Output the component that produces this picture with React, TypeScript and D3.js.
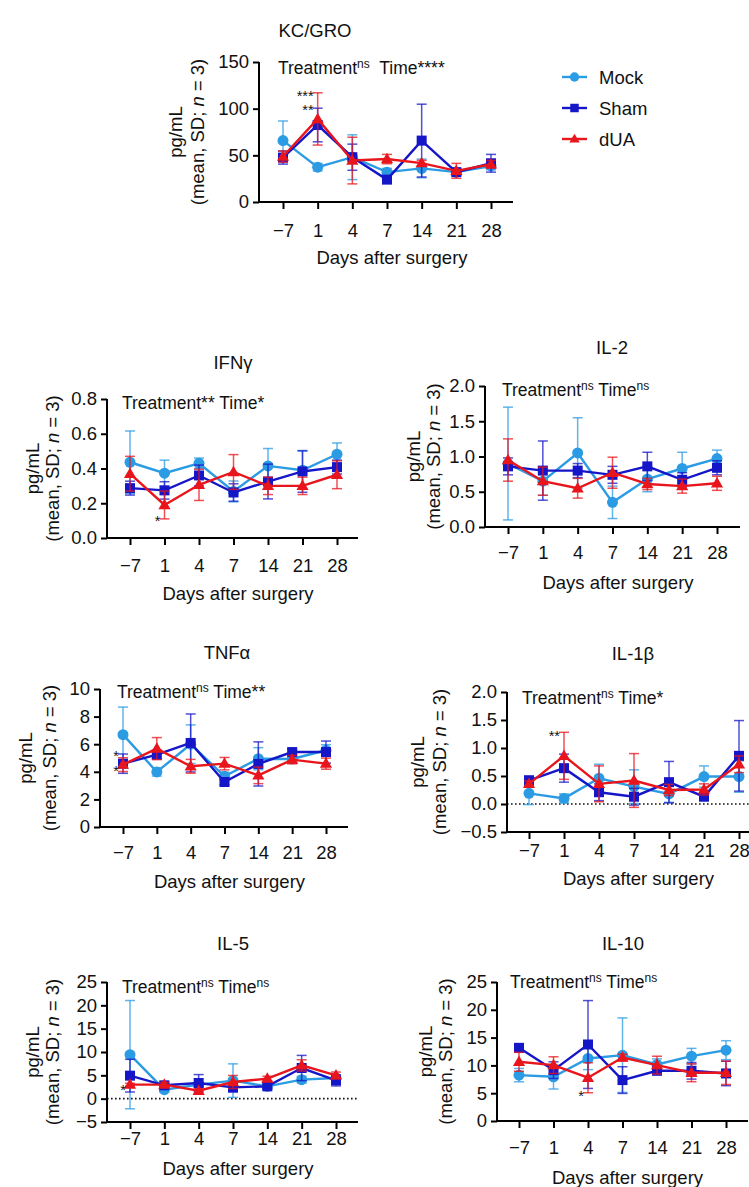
import React, { useRef, useEffect } from "react";
import * as d3 from "d3";

const days = ["−7", "1", "4", "7", "14", "21", "28"];
const seriesNames = ["Mock", "Sham", "dUA"];
const seriesColors = ["#2b9be3", "#1616c9", "#e8161c"];

// mean values per panel (Mock, Sham, dUA), and SD
const kcMean = [
  [65.8, 37.3, 48, 32, 36, 32, 38.6],
  [47.6, 82.5, 48, 24, 65.8, 32, 41.5],
  [48.7, 89, 44.4, 46, 41.6, 33.4, 40.5],
];
const kcSd = [
  [21, 4, 24, 4, 10, 3, 4],
  [7, 18, 14, 4, 39, 3, 9.5],
  [6, 28, 25, 5, 3, 8, 4],
];

const ifnMean = [
  [0.436, 0.373, 0.43, 0.268, 0.415, 0.39, 0.482],
  [0.287, 0.274, 0.36, 0.262, 0.325, 0.383, 0.408],
  [0.37, 0.19, 0.306, 0.38, 0.3, 0.3, 0.364],
];
const ifnSd = [
  [0.18, 0.075, 0.03, 0.06, 0.1, 0.11, 0.065],
  [0.04, 0.05, 0.06, 0.05, 0.1, 0.12, 0.04],
  [0.1, 0.08, 0.09, 0.1, 0.05, 0.05, 0.08],
];

const il2Mean = [
  [0.9, 0.65, 1.05, 0.35, 0.68, 0.83, 0.97],
  [0.86, 0.8, 0.8, 0.74, 0.86, 0.67, 0.84],
  [0.95, 0.65, 0.55, 0.77, 0.61, 0.58, 0.62],
];
const il2Sd = [
  [0.8, 0.2, 0.5, 0.23, 0.18, 0.23, 0.12],
  [0.12, 0.42, 0.1, 0.12, 0.2, 0.1, 0.1],
  [0.3, 0.2, 0.14, 0.22, 0.08, 0.1, 0.1],
];

const tnfMean = [
  [6.69, 3.99, 6.0, 3.67, 4.95, 4.93, 5.56],
  [4.59, 5.24, 6.09, 3.26, 4.57, 5.43, 5.43],
  [4.52, 5.68, 4.4, 4.59, 3.74, 4.88, 4.59],
];
const tnfSd = [
  [2.0, 0.3, 1.4, 0.3, 0.8, 0.3, 0.4],
  [0.7, 0.3, 2.1, 0.2, 1.6, 0.2, 0.8],
  [0.5, 0.8, 0.5, 0.45, 0.6, 0.3, 0.4],
];

const il1bMean = [
  [0.19, 0.1, 0.46, 0.31, 0.18, 0.49, 0.49],
  [0.42, 0.64, 0.21, 0.13, 0.39, 0.13, 0.86],
  [0.36, 0.86, 0.36, 0.42, 0.25, 0.26, 0.71],
];
const il1bSd = [
  [0.2, 0.08, 0.25, 0.3, 0.15, 0.19, 0.28],
  [0.08, 0.25, 0.15, 0.15, 0.37, 0.05, 0.63],
  [0.05, 0.42, 0.32, 0.48, 0.1, 0.1, 0.15],
];

const il5Mean = [
  [9.43, 1.93, 3.0, 3.86, 2.64, 4.07, 4.43],
  [4.93, 2.86, 3.36, 2.43, 2.64, 6.57, 3.93],
  [3.0, 3.0, 1.71, 3.57, 4.29, 7.14, 5.0],
];
const il5Sd = [
  [11.6, 0.5, 0.5, 3.6, 0.4, 0.7, 0.5],
  [3.5, 0.6, 1.8, 1.0, 0.5, 2.7, 1.2],
  [0.3, 0.5, 0.4, 1.4, 0.5, 1.2, 0.7],
];

const il10Mean = [
  [8.25, 7.95, 11.24, 11.84, 10.17, 11.66, 12.74],
  [13.16, 9.15, 13.76, 7.36, 9.03, 9.03, 8.55],
  [10.65, 10.05, 7.78, 11.42, 10.05, 8.67, 8.67],
];
const il10Sd = [
  [1.2, 2.2, 2.0, 6.7, 1.0, 1.4, 1.7],
  [0.5, 1.5, 7.9, 2.4, 0.6, 1.5, 2.2],
  [1.7, 1.5, 2.7, 0.6, 1.6, 1.6, 2.1],
];

const kcTicks = [0, 50, 100, 150];
const ifnTicks = [0, 0.2, 0.4, 0.6, 0.8];
const il2Ticks = [0, 0.5, 1, 1.5, 2];
const tnfTicks = [0, 2, 4, 6, 8, 10];
const il1bTicks = [-0.5, 0, 0.5, 1, 1.5, 2];
const il5Ticks = [-5, 0, 5, 10, 15, 20, 25];
const il10Ticks = [0, 5, 10, 15, 20, 25];

const panels = [
  {
    title: "KC/GRO", mean: kcMean, sd: kcSd, ticks: kcTicks, fmt: d3.format("d"),
    treat: "ns", time: "****", gap: true,
    stars: [{ i: 1, v: 116.8, t: "***" }, { i: 1, v: 101.8, t: "**" }],
    ax: 259, x0: 283, x6: 491, xe: 513, yt: 62, yb: 202, tx: 315, ty: 30,
    tly: 230, xly: 257, yl: [175, 197], anx: 278, any: 68, zero: false,
  },
  {
    title: "IFNγ", mean: ifnMean, sd: ifnSd, ticks: ifnTicks, fmt: d3.format(".1f"),
    treat: "**", time: "*", gap: false,
    stars: [{ i: 1, v: 0.115, t: "*" }],
    ax: 107, x0: 130, x6: 337, xe: 358, yt: 399, yb: 538, tx: 233, ty: 362,
    tly: 565, xly: 593, yl: [32, 52], anx: 122, any: 403, zero: false,
  },
  {
    title: "IL-2", mean: il2Mean, sd: il2Sd, ticks: il2Ticks, fmt: d3.format(".1f"),
    treat: "ns", time: "ns", gap: false, stars: [],
    ax: 485, x0: 508, x6: 717, xe: 740, yt: 386, yb: 527, tx: 612, ty: 347,
    tly: 552, xly: 582, yl: [413, 433], anx: 502, any: 390, zero: false,
  },
  {
    title: "TNFα", mean: tnfMean, sd: tnfSd, ticks: tnfTicks, fmt: d3.format("d"),
    treat: "ns", time: "**", gap: false,
    stars: [{ i: 0, v: 5.38, t: "*" }, { i: 0, v: 4.28, t: "*" }],
    ax: 100, x0: 123, x6: 326, xe: 348, yt: 689, yb: 827, tx: 227, ty: 652,
    tly: 852, xly: 881, yl: [25, 49], anx: 117, any: 692, zero: false,
  },
  {
    title: "IL-1β", mean: il1bMean, sd: il1bSd, ticks: il1bTicks, fmt: d3.format(".1f"),
    treat: "ns", time: "*", gap: false,
    stars: [{ i: 1, v: 1.27, t: "**" }],
    ax: 507, x0: 529, x6: 739, xe: 760, yt: 692, yb: 832, tx: 633, ty: 653,
    tly: 850, xly: 878, yl: [417, 439], anx: 522, any: 698, zero: true,
  },
  {
    title: "IL-5", mean: il5Mean, sd: il5Sd, ticks: il5Ticks, fmt: d3.format("d"),
    treat: "ns", time: "ns", gap: false,
    stars: [{ i: 0, v: 2.57, t: "*" }],
    ax: 107, x0: 130, x6: 336, xe: 358, yt: 982, yb: 1122, tx: 233, ty: 943,
    tly: 1138, xly: 1168, yl: [32, 52], anx: 122, any: 987, zero: true,
  },
  {
    title: "IL-10", mean: il10Mean, sd: il10Sd, ticks: il10Ticks, fmt: d3.format("d"),
    treat: "ns", time: "ns", gap: false,
    stars: [{ i: 2, v: 5.03, t: "*" }],
    ax: 497, x0: 519, x6: 726, xe: 748, yt: 982, yb: 1121, tx: 623, ty: 943,
    tly: 1147, xly: 1177, yl: [425, 445], anx: 510, any: 982, zero: false,
  },
];

const FONT = "Arial, 'Liberation Sans', Helvetica, sans-serif";
const FS = 18.5;

const drawMarker = (sel, k, color, s) => {
  if (k === 0) {
    sel.append("circle").attr("r", s * 0.55).attr("fill", color);
  } else if (k === 1) {
    sel.append("rect").attr("x", -s / 2).attr("y", -s / 2).attr("width", s).attr("height", s).attr("fill", color);
  } else {
    const h = s * 1.05;
    sel.append("path").attr("d", `M0,${-h * 0.6}L${h * 0.58},${h * 0.4}L${-h * 0.58},${h * 0.4}Z`).attr("fill", color);
  }
};

const App = () => {
  const ref = useRef(null);

  useEffect(() => {
    const svg = d3.select(ref.current);
    svg.selectAll("*").remove();
    svg.append("rect").attr("width", 749).attr("height", 1187).attr("fill", "#fff");

    panels.forEach((p) => {
      const g = svg.append("g").attr("font-family", FONT).attr("fill", "#111");
      const x = d3.scalePoint().domain(days).range([p.x0, p.x6]);
      const y = d3.scaleLinear().domain([p.ticks[0], p.ticks[p.ticks.length - 1]]).range([p.yb, p.yt]);

      // title
      g.append("text").attr("x", p.tx).attr("y", p.ty + 6.5).attr("text-anchor", "middle")
        .attr("font-size", FS).text(p.title);

      // zero dotted line
      if (p.zero) {
        g.append("line").attr("x1", p.ax).attr("x2", p.xe).attr("y1", y(0)).attr("y2", y(0))
          .attr("stroke", "#111").attr("stroke-width", 1.6).attr("stroke-dasharray", "1.6,2.4");
      }

      // axes
      const yAxis = g.append("g").attr("transform", `translate(${p.ax},0)`)
        .call(d3.axisLeft(y).tickValues(p.ticks).tickFormat(p.fmt).tickSize(6).tickPadding(4));
      yAxis.select(".domain").attr("stroke-width", 2).attr("d", `M0,${p.yt}V${p.yb + 1}`);
      yAxis.selectAll(".tick line").attr("stroke-width", 2);
      yAxis.selectAll(".tick text").attr("font-size", FS).attr("font-family", FONT).attr("fill", "#111");

      const xAxis = g.append("g").attr("transform", `translate(0,${p.yb})`)
        .call(d3.axisBottom(x).tickSize(7).tickPadding(6));
      xAxis.select(".domain").attr("stroke-width", 2).attr("d", `M${p.ax - 1},0H${p.xe}`);
      xAxis.selectAll(".tick line").attr("stroke-width", 2);
      xAxis.selectAll(".tick text").attr("font-size", FS).attr("font-family", FONT).attr("fill", "#111")
        .attr("y", p.tly - p.yb + 6.5).attr("dy", 0);

      // axis titles
      g.append("text").attr("x", (p.x0 + p.x6) / 2 + (p.xe - p.x6) / 2 - 6).attr("y", p.xly + 6.5)
        .attr("text-anchor", "middle").attr("font-size", FS).text("Days after surgery");
      const yc = (p.yt + p.yb) / 2;
      g.append("text").attr("transform", `translate(${p.yl[0] + 6.5},${yc}) rotate(-90)`)
        .attr("text-anchor", "middle").attr("font-size", FS).text("pg/mL");
      const yl2 = g.append("text").attr("transform", `translate(${p.yl[1] + 6.5},${yc}) rotate(-90)`)
        .attr("text-anchor", "middle").attr("font-size", FS);
      yl2.append("tspan").text("(mean, SD; ");
      yl2.append("tspan").attr("font-style", "italic").text("n");
      yl2.append("tspan").text(" = 3)");

      // annotation
      const af = 17.5;
      const an = g.append("text").attr("x", p.anx).attr("y", p.any + 6).attr("font-size", af);
      an.append("tspan").text("Treatment");
      if (p.treat === "ns") an.append("tspan").attr("font-size", 12).attr("dy", -6).text("ns");
      else an.append("tspan").attr("font-size", af).attr("dy", 0).text(p.treat);
      an.append("tspan").attr("dy", p.treat === "ns" ? 6 : 0).attr("font-size", af).text(p.gap ? "\u00a0 Time" : " Time");
      if (p.time === "ns") an.append("tspan").attr("font-size", 12).attr("dy", -6).text("ns");
      else an.append("tspan").attr("font-size", af).text(p.time);

      // series
      const line = d3.line().x((d, i) => x(days[i])).y((d) => y(d));
      p.mean.forEach((vals, k) => {
        const c = seriesColors[k];
        const sg = g.append("g");
        vals.forEach((v, i) => {
          const cx = x(days[i]);
          const lo = y(v - p.sd[k][i]);
          const hi = y(v + p.sd[k][i]);
          sg.append("line").attr("x1", cx).attr("x2", cx).attr("y1", lo).attr("y2", hi)
            .attr("stroke", c).attr("stroke-opacity", 0.75).attr("stroke-width", 1.5);
          [lo, hi].forEach((yy) => {
            sg.append("line").attr("x1", cx - 5).attr("x2", cx + 5).attr("y1", yy).attr("y2", yy)
              .attr("stroke", c).attr("stroke-opacity", 0.75).attr("stroke-width", 1.5);
          });
        });
        sg.append("path").datum(vals).attr("d", line).attr("fill", "none")
          .attr("stroke", c).attr("stroke-width", 2.4);
        vals.forEach((v, i) => {
          const m = sg.append("g").attr("transform", `translate(${x(days[i])},${y(v)})`);
          drawMarker(m, k, c, 10);
        });
      });

      // significance stars
      p.stars.forEach((s) => {
        g.append("text").attr("x", x(days[s.i]) - 4).attr("y", y(s.v) + 8)
          .attr("text-anchor", "end").attr("font-size", 14.5).text(s.t);
      });
    });

    // legend
    const lg = svg.append("g").attr("font-family", FONT).attr("fill", "#111");
    const legY = [77, 108, 139];
    seriesNames.forEach((n, k) => {
      const row = lg.append("g").attr("transform", `translate(0,${legY[k]})`);
      row.append("line").attr("x1", 562).attr("x2", 587).attr("stroke", seriesColors[k]).attr("stroke-width", 2.4);
      const m = row.append("g").attr("transform", "translate(574.5,0)");
      drawMarker(m, k, seriesColors[k], 8.5);
      row.append("text").attr("x", 599).attr("y", 6.5).attr("font-size", FS).text(n);
    });
  }, []);

  return (
    <svg
      ref={ref}
      width={749}
      height={1187}
      style={{ position: "absolute", left: 0, top: 0, display: "block" }}
    />
  );
};

export default App;
